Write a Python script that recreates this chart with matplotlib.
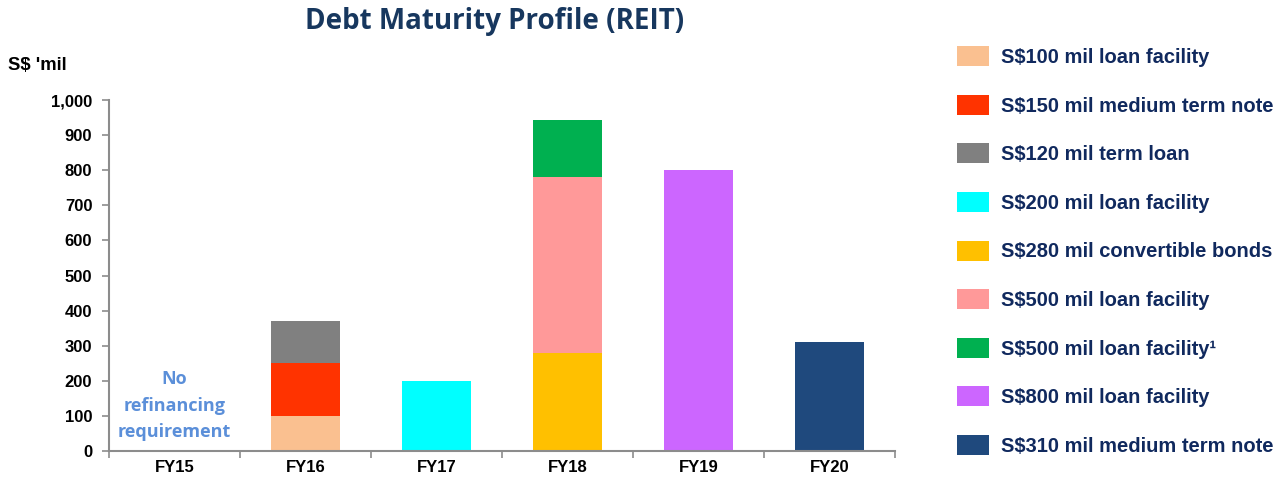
import matplotlib
matplotlib.use('Agg')
import matplotlib.pyplot as plt
import numpy as np
from matplotlib.patches import Patch
from matplotlib.ticker import FuncFormatter, FixedLocator

plt.rcParams['font.family'] = ['Liberation Sans', 'DejaVu Sans']

# Data (S$ mil)
years = ['FY15', 'FY16', 'FY17', 'FY18', 'FY19', 'FY20']
series_labels = [
    'S$100 mil loan facility',
    'S$150 mil medium term note',
    'S$120 mil term loan',
    'S$200 mil loan facility',
    'S$280 mil convertible bonds',
    'S$500 mil loan facility',
    'S$500 mil loan facility\u00b9',
    'S$800 mil loan facility',
    'S$310 mil medium term note',
]
loan100 = [0, 100, 0, 0, 0, 0]
mtn150 = [0, 150, 0, 0, 0, 0]
term120 = [0, 120, 0, 0, 0, 0]
loan200 = [0, 0, 200, 0, 0, 0]
cb280 = [0, 0, 0, 280, 0, 0]
loan500 = [0, 0, 0, 500, 0, 0]
loan500b = [0, 0, 0, 165, 0, 0]
loan800 = [0, 0, 0, 0, 800, 0]
mtn310 = [0, 0, 0, 0, 0, 310]
series_values = [loan100, mtn150, term120, loan200, cb280, loan500,
                 loan500b, loan800, mtn310]
colors = ['#FAC090', '#FF3300', '#808080', '#00FFFF', '#FFC000',
          '#FF9999', '#00B050', '#CC66FF', '#1F497D']

NAVY = '#10295E'

fig = plt.figure(figsize=(12.87, 4.83), dpi=100)
fig.patch.set_facecolor('white')
ax = fig.add_axes([0.0847, 0.0669, 0.6107, 0.7254])

x = np.arange(len(years))
bottom = np.zeros(len(years))
for vals, color in zip(series_values, colors):
    vals = np.array(vals, dtype=float)
    ax.bar(x, vals, width=0.52, bottom=bottom, color=color, linewidth=0)
    bottom += vals

ax.set_xlim(-0.5, len(years) - 0.5)
ax.set_ylim(0, 1000)
ax.set_yticks(np.arange(0, 1001, 100))
ax.yaxis.set_major_formatter(FuncFormatter(lambda v, p: f'{int(v):,}'))
ax.set_xticks(x)
ax.set_xticklabels(years)
ax.xaxis.set_minor_locator(FixedLocator(np.arange(-0.5, len(years), 1.0)))

for spine in ['top', 'right']:
    ax.spines[spine].set_visible(False)
for spine in ['bottom', 'left']:
    ax.spines[spine].set_color('#8C8C8C')
    ax.spines[spine].set_linewidth(1.5)

ax.tick_params(axis='y', which='major', labelsize=12, length=5, width=1.2,
               color='#8C8C8C', pad=7)
ax.tick_params(axis='x', which='major', labelsize=12, length=0, pad=7)
ax.tick_params(axis='x', which='minor', length=5, width=1.2, color='#8C8C8C')
for lbl in ax.get_xticklabels() + ax.get_yticklabels():
    lbl.set_fontweight('bold')

ax.text(0, 128, 'No\nrefinancing\nrequirement', ha='center', va='center',
        fontsize=13, fontweight='bold', color='#5B8FD9',
        family=['Open Sans', 'DejaVu Sans'], linespacing=1.6)

fig.text(0.006, 0.865, "S$ 'mil", fontsize=13.3, fontweight='bold',
         color='black', va='center')
fig.text(0.384, 0.955, 'Debt Maturity Profile (REIT)', ha='center', va='center',
         fontsize=20, fontweight='bold', color='#17375E',
         family=['Open Sans', 'DejaVu Sans'])

handles = [Patch(facecolor=c, edgecolor='none') for c in colors]
leg = fig.legend(handles, series_labels, loc='upper left',
                 bbox_to_anchor=(0.737, 0.921), frameon=False,
                 fontsize=14.5, handlelength=1.6, handleheight=1.15,
                 handletextpad=0.6, labelspacing=1.38, borderaxespad=0)
for t in leg.get_texts():
    t.set_color(NAVY)
    t.set_fontweight('bold')

fig.savefig('out.png', dpi=100, facecolor='white')
